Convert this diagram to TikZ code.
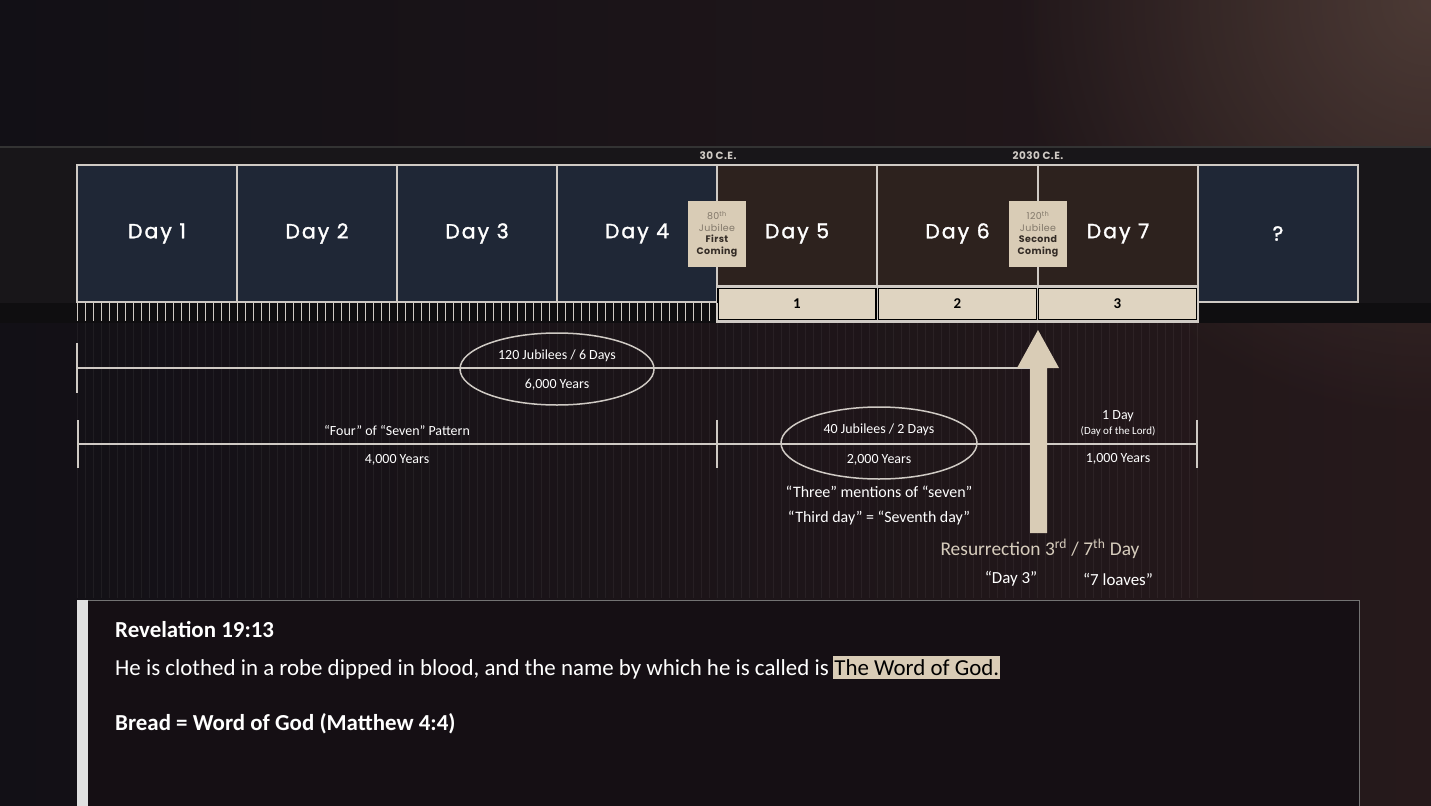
\documentclass[tikz,border=0pt]{standalone}
\usepackage{fontspec}
\setmainfont{Carlito}
\newfontfamily\dayfont[LetterSpace=10, FakeBold=1.5]{Poppins}
\newfontfamily\capfont[LetterSpace=4]{Poppins}
\usetikzlibrary{positioning,shapes.geometric,fadings}

\definecolor{bgL}{RGB}{18,16,22}
\definecolor{bgR}{RGB}{38,25,27}
\definecolor{bandcol}{RGB}{24,22,25}
\definecolor{navybox}{RGB}{31,39,54}
\definecolor{brownbox}{RGB}{45,34,30}
\definecolor{beige}{RGB}{217,204,182}
\definecolor{paleline}{RGB}{207,202,196}
\definecolor{jubgray}{RGB}{130,120,106}
\definecolor{jubdark}{RGB}{52,44,38}
\definecolor{resurr}{RGB}{214,204,188}
\definecolor{glow}{RGB}{92,72,64}
\definecolor{scripbg}{RGB}{21,15,20}

\tikzfading[name=softglow, inner color=transparent!0, outer color=transparent!100]

\tikzset{
  daybox/.style={draw=paleline, line width=1.5bp, minimum width=160bp,
    minimum height=137bp, inner sep=0pt, text=white,
    font=\dayfont\fontsize{20.5}{24}\selectfont},
  jubbox/.style={fill=beige, minimum width=58bp, minimum height=66bp,
    inner sep=0pt, align=center, font=\capfont\fontsize{9.5}{11.5}\selectfont},
  numcell/.style={fill=beige!85!white, draw=black, line width=1.5bp,
    minimum width=158bp, minimum height=31bp, inner sep=0pt,
    font=\bfseries\fontsize{15}{17}\selectfont},
  span/.style={ellipse, draw=paleline, line width=1.5bp, inner sep=0pt},
  lbl/.style={text=white, inner sep=0pt, font=\fontsize{14}{16}\selectfont},
  note/.style={text=white, inner sep=0pt, font=\fontsize{16}{19}\selectfont},
  era/.style={text=paleline, inner sep=0pt, font=\capfont\bfseries\fontsize{10.5}{12}\selectfont},
  bar/.style={paleline, line width=2.5bp},
  body/.style={text=white, inner sep=0pt, anchor=base west, font=\fontsize{23}{27}\selectfont}
}

\begin{document}
\begin{tikzpicture}[x=1bp, y=-1bp]

    % Background
    \useasboundingbox (0,0) rectangle (1431,805);
    \shade[left color=bgL, right color=bgR] (0,0) rectangle (1431,805);
    \begin{scope}
        \clip (0,0) rectangle (1431,805);
        \fill[glow, path fading=softglow, opacity=0.7] (1431,0) circle (420);
    \end{scope}
    \fill[bandcol] (0,148) rectangle (1431,323);
    \draw[black!80, line width=2bp] (0,147) -- (1431,147);
    \fill[black, opacity=0.35] (0,303) rectangle (1431,323);

    % Faint stripes under the timeline
    \foreach \k in {0,...,140} {
        \draw[white, opacity=0.05, line width=1bp] (77+8*\k,323) -- ++(0,275);
    }

    % Day boxes
    \foreach \i/\cx/\col/\txt in {1/157/navybox/Day 1, 2/317/navybox/Day 2,
        3/477/navybox/Day 3, 4/637/navybox/Day 4, 5/797/brownbox/Day 5,
        6/957.5/brownbox/Day 6, 7/1118/brownbox/Day 7, 8/1278/navybox/?} {
        \node[daybox, fill=\col] (day\i) at (\cx,233.5) {\raisebox{-2bp}{\txt}};
    }

    % Jubilee markers
    \node[jubbox] (jub80) at (717,234)
        {\color{jubgray}80\textsuperscript{th}\\\color{jubgray}Jubilee\\
         \color{jubdark}\bfseries First\\\color{jubdark}\bfseries Coming};
    \node[jubbox] (jub120) at (1038,234)
        {\color{jubgray}120\textsuperscript{th}\\\color{jubgray}Jubilee\\
         \color{jubdark}\bfseries Second\\\color{jubdark}\bfseries Coming};

    \node[era] (ce30) at (718,156) {30 C.E.};
    \node[era] (ce2030) at (1038,156) {2030 C.E.};

    % Numbered days
    \fill[paleline] (716,285) rectangle (1199,323);
    \node[numcell] (n1) at (797,304) {1};
    \node[numcell] (n2) at (957.5,304) {2};
    \node[numcell] (n3) at (1117.5,304) {3};

    % Jubilee ticks
    \foreach \k in {0,...,80} {
        \draw[paleline, line width=1bp] (77+8*\k,303) -- ++(0,18);
    }

    % 6,000 years
    \coordinate (a0) at (77,368);
    \coordinate (a1) at (1032,368);
    \draw[bar] (77,343) -- (77,393);
    \draw[bar] (a0) -- (a1);
    \node[span, minimum width=194bp, minimum height=72bp] (e6000) at (557,369) {};
    \node[lbl] (j120) at (557,356) {120 Jubilees / 6 Days};
    \node[lbl] (y6000) at (557,385) {6,000 Years};

    % 4,000 + 2,000 + 1,000 years
    \coordinate (b0) at (78,444);
    \coordinate (b1) at (717,444);
    \coordinate (b2) at (1197,444);
    \foreach \p in {b0,b1,b2} {
        \draw[bar] ([yshift=-24bp]\p) -- ([yshift=24bp]\p);
    }
    \draw[bar] (b0) -- (b1) -- (b2);
    \node[lbl] (four) at (397,431) {“Four” of “Seven” Pattern};
    \node[lbl] (y4000) at (397,460) {4,000 Years};
    \node[span, minimum width=196bp, minimum height=72bp] (e2000) at (879,443) {};
    \node[lbl] (j40) at (879,430) {40 Jubilees / 2 Days};
    \node[lbl] (y2000) at (879,460) {2,000 Years};
    \node[lbl] (oneday) at (1118,416) {1 Day};
    \node[lbl, font=\fontsize{11}{12}\selectfont] (lord) at (1118,431) {(Day of the Lord)};
    \node[lbl] (y1000) at (1118,459) {1,000 Years};

    \node[note] (three) at (879,492) {“Three” mentions of “seven”};
    \node[note] (third) at (879,518) {“Third day” = “Seventh day”};

    % Resurrection arrow
    \fill[beige] (1030,533) -- (1030,368) -- (1017,368) -- (1038,330)
        -- (1059,368) -- (1047,368) -- (1047,533) -- cycle;
    \node[text=resurr, inner sep=0pt, font=\fontsize{19.5}{22}\selectfont] (res) at (1040,549)
        {Resurrection 3\textsuperscript{rd} / 7\textsuperscript{th} Day};
    \node[note, font=\fontsize{17}{20}\selectfont] (d3) at (1011,579) {“Day 3”};
    \node[note, font=\fontsize{17}{20}\selectfont] (loaves) at (1118,579) {“7 loaves”};

    % Scripture box
    \fill[scripbg] (77,600) rectangle (1359,806);
    \draw[black!55!white, line width=1bp] (88,600) -- (1359,600) -- (1359,806);
    \fill[black!12!white] (77,600) rectangle (88,806);
    \node[body, font=\bfseries\fontsize{23}{27}\selectfont] (rev) at (115,637) {Revelation 19:13};
    \node[body] (verse) at (115,675)
        {He is clothed in a robe dipped in blood, and the name by which he is called is};
    \node[anchor=base west, fill=beige, text=black, inner xsep=1bp, inner ysep=3.5bp,
        font=\fontsize{23}{27}\selectfont] (word) at ([xshift=4bp]verse.base east) {The Word of God.};
    \node[body, font=\bfseries\fontsize{23}{27}\selectfont] (bread) at (115,730)
        {Bread = Word of God (Matthew 4:4)};

\end{tikzpicture}
\end{document}
